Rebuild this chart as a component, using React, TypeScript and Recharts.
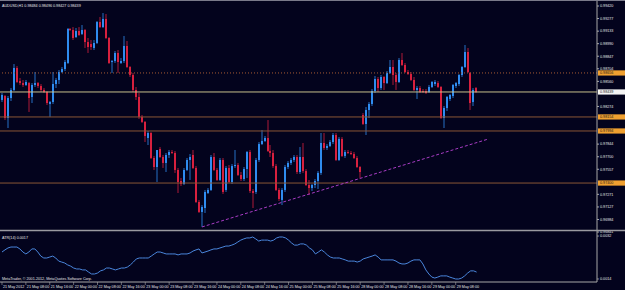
import React from 'react';
import { ComposedChart, Bar, Line, XAxis, YAxis, ReferenceLine } from 'recharts';

// AUDUSD H1, prices in points (1e-5)
const open = [
  98348, 98393, 98142, 98370, 98462, 98713, 98564, 98541, 98519, 98541,
  98382, 98519, 98541, 98507, 98462, 98439, 98302, 98325, 98530, 98576,
  98667, 98701, 98770, 99158, 99146, 99066, 99135, 99101, 99146, 99009,
  98986, 98941, 98998, 99237, 99180, 99272, 99055, 98781, 98792, 98884,
  98770, 98792, 98964, 98724, 98633, 98462, 98382, 98154, 98097, 97914,
  97971, 97686, 97583, 97788, 97697, 97629, 97720, 97754, 97743, 97549,
  97423, 97389, 97549, 97663, 97720, 97572, 97184, 97070, 97115, 97286,
  97321, 97697, 97549, 97435, 97663, 97321, 97572, 97412, 97594, 97606,
  97492, 97446, 97560, 97754, 97309, 97298, 97663, 97845, 97880, 97914,
  97766, 97743, 97594, 97321, 97207, 97321, 97583, 97629, 97663, 97697,
  97526, 97697, 97537, 97378, 97343, 97378, 97423, 97515, 97857, 97800,
  97823, 97868, 97948, 97663, 97903, 97709, 97754, 97743, 97731, 97686,
  97583, 98176, 98074, 98233, 98302, 98450, 98587, 98484, 98610, 98541,
  98656, 98724, 98633, 98553, 98804, 98747, 98667, 98644, 98576, 98462,
  98484, 98450, 98450, 98439, 98496, 98530, 98541, 98496, 98142, 98256,
  98359, 98393, 98507, 98530, 98633, 98724, 98895, 98656, 98325, 98484,
];
const high = [
  98427, 98405, 98393, 98484, 98758, 98735, 98599, 98576, 98576, 98553,
  98541, 98667, 98553, 98530, 98484, 98450, 98336, 98667, 98599, 98690,
  98724, 98804, 99169, 99169, 99180, 99169, 99180, 99203, 99158, 99055,
  99032, 99032, 99249, 99295, 99340, 99329, 99066, 98804, 98907, 98918,
  98827, 99078, 99021, 98735, 98656, 98496, 98427, 98176, 98108, 97994,
  97982, 97709, 97777, 97811, 97720, 97743, 97777, 97777, 97766, 97572,
  97458, 97572, 97686, 97731, 97777, 97594, 97207, 97149, 97321, 97343,
  97720, 97743, 97572, 97686, 97686, 97594, 97606, 97617, 97777, 97629,
  97526, 97583, 97766, 97777, 97332, 97686, 97868, 98005, 97937, 98119,
  97834, 97777, 97617, 97343, 97343, 97606, 97651, 97686, 97720, 97720,
  97811, 97857, 97560, 97435, 97389, 97446, 97537, 97971, 97971, 97845,
  97891, 97971, 97971, 97925, 97925, 97777, 97777, 97766, 97754, 97709,
  97594, 98199, 98268, 98325, 98473, 98621, 98610, 98633, 98621, 98678,
  98804, 98804, 98656, 98827, 98884, 98770, 98690, 98667, 98610, 98507,
  98507, 98473, 98473, 98519, 98564, 98576, 98564, 98507, 98279, 98393,
  98416, 98530, 98553, 98644, 98735, 98975, 98941, 98667, 98484, 98496,
];
const low = [
  98325, 98119, 98028, 98336, 98450, 98541, 98519, 98496, 98507, 98211,
  98313, 98496, 98484, 98439, 98427, 98290, 98154, 98302, 98484, 98530,
  98656, 98678, 98758, 99135, 99032, 99055, 99078, 99089, 98941, 98884,
  98918, 98918, 98986, 99169, 99169, 99043, 98758, 98656, 98770, 98656,
  98758, 98770, 98713, 98610, 98439, 98348, 98131, 98085, 97868, 97834,
  97674, 97549, 97412, 97686, 97572, 97526, 97686, 97731, 97515, 97286,
  97366, 97378, 97537, 97435, 97560, 97172, 97058, 96899, 97058, 97275,
  97309, 97537, 97423, 97423, 97275, 97298, 97400, 97389, 97572, 97480,
  97423, 97423, 97458, 97286, 97115, 97275, 97640, 97834, 97868, 97754,
  97697, 97572, 97309, 97195, 97149, 97298, 97560, 97606, 97640, 97503,
  97503, 97515, 97366, 97264, 97309, 97343, 97332, 97492, 97777, 97777,
  97811, 97845, 97651, 97651, 97697, 97686, 97731, 97720, 97674, 97572,
  97458, 98062, 97948, 98142, 98279, 98427, 98439, 98462, 98462, 98530,
  98644, 98519, 98462, 98541, 98735, 98656, 98633, 98564, 98450, 98359,
  98427, 98427, 98416, 98427, 98484, 98507, 98484, 98131, 98028, 98222,
  98336, 98370, 98484, 98507, 98610, 98713, 98656, 98233, 98279, 98427,
];
const close = [
  98405, 98142, 98370, 98462, 98713, 98553, 98541, 98519, 98553, 98370,
  98519, 98541, 98507, 98462, 98439, 98313, 98325, 98530, 98576, 98667,
  98701, 98781, 99158, 99146, 99055, 99135, 99089, 99146, 99009, 98952,
  98952, 98998, 99237, 99180, 99272, 99055, 98770, 98792, 98884, 98781,
  98792, 98964, 98724, 98633, 98462, 98382, 98154, 98097, 97937, 97971,
  97686, 97583, 97777, 97697, 97629, 97720, 97754, 97743, 97549, 97412,
  97389, 97549, 97663, 97697, 97572, 97184, 97070, 97127, 97298, 97321,
  97697, 97549, 97435, 97663, 97298, 97572, 97412, 97594, 97606, 97492,
  97446, 97560, 97754, 97309, 97286, 97663, 97845, 97880, 97914, 97766,
  97743, 97594, 97321, 97218, 97321, 97583, 97629, 97663, 97697, 97526,
  97697, 97537, 97378, 97343, 97378, 97423, 97515, 97857, 97800, 97823,
  97868, 97948, 97663, 97903, 97709, 97754, 97743, 97731, 97686, 97583,
  97526, 98074, 98233, 98302, 98450, 98587, 98484, 98610, 98541, 98656,
  98724, 98633, 98553, 98804, 98747, 98667, 98644, 98576, 98462, 98484,
  98439, 98439, 98427, 98496, 98553, 98553, 98496, 98142, 98256, 98382,
  98405, 98519, 98541, 98633, 98724, 98895, 98667, 98313, 98462, 98439,
];
// ATR(14) in pips
const atrPips = [
  25.3, 26.2, 27.0, 27.4, 27.4, 27.4, 26.6, 25.3, 24.5, 25.3,
  26.6, 26.6, 25.3, 23.6, 22.8, 22.8, 23.2, 23.6, 22.8, 21.5,
  21.1, 20.7, 19.9, 19.4, 18.6, 18.2, 18.2, 17.8, 17.8, 16.9,
  16.1, 16.1, 16.5, 17.4, 17.8, 18.6, 18.6, 18.2, 17.8, 18.2,
  18.6, 18.6, 19.0, 19.9, 21.1, 22.4, 22.8, 22.8, 22.8, 22.8,
  23.6, 24.5, 25.3, 25.3, 24.9, 24.5, 24.5, 24.5, 24.5, 24.1,
  24.5, 24.5, 24.5, 24.9, 25.7, 26.2, 26.6, 24.9, 25.3, 25.7,
  26.2, 26.6, 26.6, 27.0, 27.4, 27.8, 27.8, 28.2, 28.7, 29.5,
  30.3, 30.8, 31.2, 31.2, 31.6, 30.8, 29.9, 30.3, 30.3, 30.3,
  29.9, 30.3, 31.2, 31.6, 31.6, 31.2, 30.3, 29.1, 28.2, 28.2,
  28.7, 28.7, 28.2, 27.0, 26.2, 24.5, 25.3, 26.2, 25.3, 24.1,
  23.2, 22.8, 22.8, 22.8, 22.4, 22.0, 21.5, 21.5, 21.5, 21.1,
  21.5, 22.4, 22.8, 23.2, 23.6, 24.1, 23.2, 22.0, 22.0, 22.0,
  22.0, 22.0, 21.5, 20.7, 20.3, 20.3, 20.7, 21.5, 22.0, 22.0,
  22.0, 20.3, 17.8, 16.1, 14.8, 14.4, 14.8, 15.3, 15.3, 15.3,
  14.8, 14.4, 14.0, 14.0, 14.4, 15.3, 16.5, 17.4, 17.4, 16.9,
];

const timeLabels = [
  '21 May 2012', '21 May 08:00', '21 May 16:00', '22 May 00:00', '22 May 08:00',
  '22 May 16:00', '23 May 00:00', '23 May 08:00', '23 May 16:00', '24 May 00:00',
  '24 May 08:00', '24 May 16:00', '25 May 00:00', '25 May 08:00', '25 May 16:00',
  '28 May 00:00', '28 May 08:00', '28 May 16:00', '29 May 00:00', '29 May 08:00',
];
const priceTicks = [
  0.9942, 0.99277, 0.99133, 0.9899, 0.98847, 0.98704, 0.9856, 0.98274,
  0.97844, 0.977, 0.97557, 0.97271, 0.97127, 0.96984, 0.96841,
];
const atrTicks = [0.0014, 0.0032];
const dottedLevel = 0.98656;
const levelLines = [0.98154, 0.97994, 0.974];
const trendStart = { x: 67, y: 0.96899 };
const trendEnd = { x: 163, y: 0.97903 };

const BG = '#03031d';
const BULL = '#2f8cf0';
const BEAR = '#d8203e';
const AXIS = '#a8a8a8';
const TEXT = '#e6e6e6';
const FONT = '"Liberation Sans", Arial, sans-serif';
const FS = 3.7;
const LABEL_X = 600; // left edge of the right-hand price label column

const data = open.map((o, i) => ({
  i,
  o: o / 1e5,
  h: high[i] / 1e5,
  l: low[i] / 1e5,
  c: close[i] / 1e5,
  atr: atrPips[i] / 1e4,
}));
const last = data[data.length - 1];
const bid = last.c;

function Candle(props: any) {
  const { x, y, width, height, payload } = props;
  if (x == null || y == null) return null;
  const top0 = Math.min(y, y + height);
  const hgt = Math.abs(height);
  const { o, h, l, c } = payload;
  const cx = Math.round(x + width / 2);
  const ratio = h === l ? 0 : hgt / (h - l);
  const bTop = top0 + (h - Math.max(o, c)) * ratio;
  const bBot = top0 + (h - Math.min(o, c)) * ratio;
  const color = c > o ? BULL : c < o ? BEAR : '#d0d0d0';
  return (
    <g>
      <rect x={cx - 0.5} y={top0} width={1} height={Math.max(hgt, 1)} fill={color} opacity={0.8} />
      <rect x={cx - 1} y={bTop} width={2} height={Math.max(bBot - bTop, 1)} fill={color} />
    </g>
  );
}

function TimeTick(props: any) {
  const { x, y, payload } = props;
  const label = timeLabels[Math.round(payload.value / 8)];
  return (
    <g>
      <line x1={x} y1={y} x2={x} y2={y + 3} stroke={AXIS} strokeWidth={0.6} />
      <text x={x + 1} y={y + 6.3} fill={TEXT} fontSize={FS} fontFamily={FONT}>{label}</text>
    </g>
  );
}

function PriceTick(props: any) {
  const { x, y, payload } = props;
  return (
    <text x={x} y={y + 1.3} fill={TEXT} fontSize={FS} fontFamily={FONT} textAnchor="start">
      {payload.value.toFixed(5)}
    </text>
  );
}

function AtrTick(props: any) {
  const { y, payload } = props;
  return (
    <g>
      <line x1={LABEL_X - 3} y1={y} x2={LABEL_X - 1} y2={y} stroke={AXIS} strokeWidth={0.8} />
      <text x={LABEL_X} y={y + 1.3} fill={TEXT} fontSize={FS} fontFamily={FONT} textAnchor="start">
        {payload.value.toFixed(4)}
      </text>
    </g>
  );
}

function tag(value: number, fill: string) {
  return (p: any) => {
    const vb = p.viewBox || {};
    const x0 = (vb.x || 0) + (vb.width || 0) + 1;
    const yc = vb.y || 0;
    return (
      <g>
        <rect x={x0} y={yc - 2.6} width={27} height={5.2} fill={fill} />
        <text x={x0 + 2} y={yc + 1.3} fill="#1a1a1a" fontSize={FS} fontFamily={FONT}>
          {value.toFixed(5)}
        </text>
      </g>
    );
  };
}

export default function App() {
  const title = `AUDUSD,H1  ${last.o.toFixed(5)} ${last.h.toFixed(5)} ${last.l.toFixed(5)} ${last.c.toFixed(5)}`;
  const atrNow = last.atr.toFixed(4);
  return (
    <div style={{ position: 'absolute', left: 0, top: 0, width: 625, height: 290, background: BG, overflow: 'hidden' }}>
      <ComposedChart width={625} height={290} data={data} margin={{ top: 0, right: 0, bottom: 0, left: 0 }}>
        <XAxis
          dataKey="i"
          type="number"
          domain={[-2 / 3, 598 / 3]}
          allowDataOverflow
          ticks={timeLabels.map((_, k) => k * 8)}
          interval={0}
          height={8}
          stroke={AXIS}
          tickLine={false}
          tickSize={0}
          tickMargin={0}
          tick={<TimeTick />}
        />
        <YAxis
          yAxisId="price"
          orientation="right"
          width={28}
          domain={[0.9627084, 0.9948846]}
          allowDataOverflow
          ticks={priceTicks}
          interval={0}
          stroke={AXIS}
          tickSize={2}
          tickMargin={1}
          tick={<PriceTick />}
        />
        <YAxis
          yAxisId="atr"
          orientation="right"
          mirror
          width={28}
          domain={[0.0012743, 0.0130894]}
          allowDataOverflow
          ticks={atrTicks}
          axisLine={false}
          tickLine={false}
          interval={0}
          tick={<AtrTick />}
        />
        <ReferenceLine yAxisId="price" y={dottedLevel} stroke="#a85a34" strokeDasharray="1 2" label={tag(dottedLevel, '#f0a030')} />
        {levelLines.map((v) => (
          <ReferenceLine key={v} yAxisId="price" y={v} stroke="#8a5636" strokeWidth={1} label={tag(v, '#f0a030')} />
        ))}
        <ReferenceLine yAxisId="price" y={bid} stroke="#c8c08c" strokeWidth={1} label={tag(bid, '#f4f4f4')} />
        <ReferenceLine
          yAxisId="price"
          segment={[trendStart, trendEnd]}
          stroke="#a83cc4"
          strokeDasharray="3 2"
        />
        <Bar
          yAxisId="price"
          dataKey={(d: any) => [d.l, d.h]}
          barSize={3}
          shape={<Candle />}
          isAnimationActive={false}
        />
        <Line
          yAxisId="atr"
          dataKey="atr"
          type="linear"
          stroke="#4a86dc"
          strokeWidth={1}
          dot={false}
          activeDot={false}
          isAnimationActive={false}
        />
      </ComposedChart>
      <svg width={625} height={290} style={{ position: 'absolute', left: 0, top: 0, pointerEvents: 'none' }}>
        <line x1={0} y1={0.5} x2={625} y2={0.5} stroke="#7a7a8a" />
        <line x1={0} y1={230.5} x2={625} y2={230.5} stroke="#9a9aa0" strokeWidth={1.4} />
        <text x={2} y={6.5} fill={TEXT} fontSize={FS} fontFamily={FONT}>{title}</text>
        <text x={2} y={238.5} fill={TEXT} fontSize={FS} fontFamily={FONT}>ATR(14) {atrNow}</text>
        <text x={2} y={280.3} fill={TEXT} fontSize={FS} fontFamily={FONT}>MetaTrader, © 2001-2012, MetaQuotes Software Corp.</text>
      </svg>
    </div>
  );
}
